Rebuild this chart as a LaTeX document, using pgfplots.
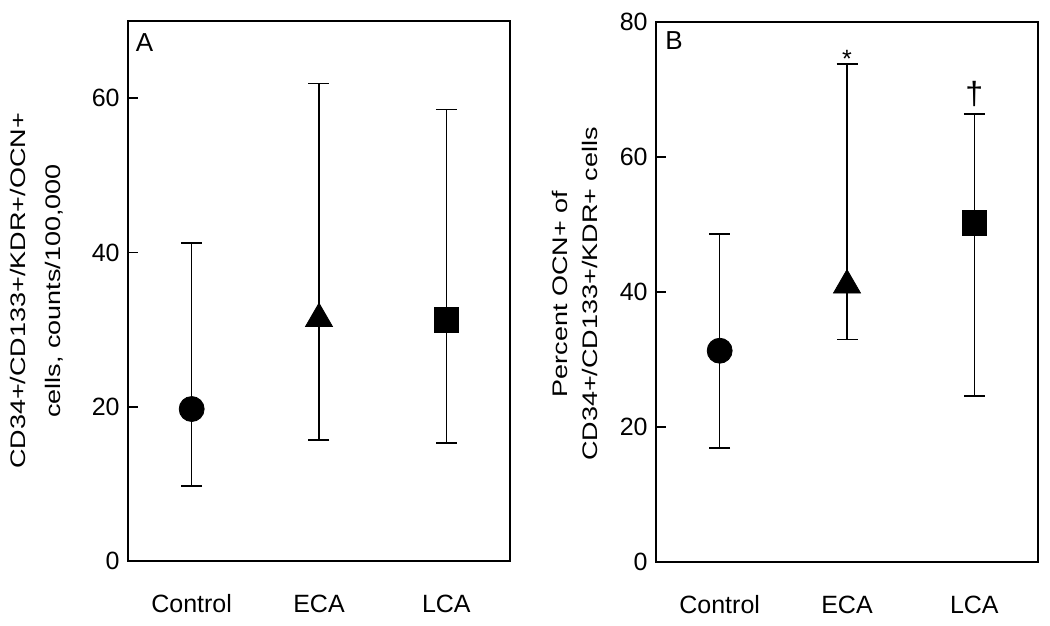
\documentclass[border=0pt]{standalone}
\usepackage{fontspec}
\setmainfont{Liberation Sans}
\usepackage{pgfplots}
\pgfplotsset{compat=1.18}
\begin{document}
\begin{tikzpicture}
\useasboundingbox (0,0) rectangle (525pt,313pt);
\pgfplotsset{
 panel/.style={
  scale only axis, width=191pt, height=270pt, anchor=south west,
  xmin=0.5, xmax=3.5, ymin=0,
  xtick={1,2,3}, xticklabels={Control,ECA,LCA},
  xtick style={draw=none},
  ytick pos=left,
  major tick length=5pt,
  axis line style={line width=0.9pt},
  ytick style={line width=0.9pt, black},
  tick label style={font=\fontsize{12.5}{15}\selectfont},
  /pgf/number format/assume math mode=true,
  yticklabel style={inner sep=0pt, xshift=-4pt},
  xticklabel style={anchor=center, inner sep=0pt, yshift=-21.5pt},
  clip=false,
  error bars/error bar style={line width=0.7pt, black},
  error bars/error mark options={rotate=90, line width=0.7pt, black, mark size=5.25pt},
 },
 pt/.style={only marks, black, error bars/y dir=both, error bars/y explicit},
}
% Panel A
\begin{axis}[panel, at={(64pt,32.5pt)}, ymax=70, ytick={0,20,40,60}]
\addplot[pt, mark=*, mark size=6.25pt] coordinates {(1,19.7) += (0,21.5) -= (0,10.0)};
\addplot[pt, mark=triangle*, mark size=7.8pt] coordinates {(2,31.4) += (0,30.5) -= (0,15.7)};
\addplot[pt, mark=square*, mark size=6.2pt] coordinates {(3,31.3) += (0,27.2) -= (0,16.0)};
\node[font=\fontsize{13}{15}\selectfont] at (axis description cs:0.0435,0.960) {A};
\end{axis}
% Panel B
\begin{axis}[panel, at={(328pt,32pt)}, ymax=80, ytick={0,20,40,60,80}]
\addplot[pt, mark=*, mark size=6.25pt] coordinates {(1,31.3) += (0,17.3) -= (0,14.4)};
\addplot[pt, mark=triangle*, mark size=7.8pt] coordinates {(2,41.0) += (0,32.8) -= (0,8.0)};
\addplot[pt, mark=square*, mark size=6.2pt] coordinates {(3,50.2) += (0,16.2) -= (0,25.6)};
\node[font=\fontsize{13}{15}\selectfont] at (axis description cs:0.047,0.966) {B};
\node[anchor=north, inner sep=0pt, font=\fontsize{12.5}{15}\selectfont] at (axis cs:2,75.9) {*};
\node[anchor=north, inner sep=0pt, font=\fontsize{16}{18}\selectfont] at (axis cs:3,71.2) {†};
\end{axis}
% y labels
\node[rotate=90, font=\fontsize{13.5}{16}\selectfont] at (9pt,167.5pt) {\scalebox{1}[0.78]{CD34+/CD133+/KDR+/OCN+}};
\node[rotate=90, font=\fontsize{13.5}{16}\selectfont] at (27pt,167.5pt) {\scalebox{1}[0.78]{cells, counts/100,000}};
\node[rotate=90, font=\fontsize{13.5}{16}\selectfont] at (280pt,166pt) {\scalebox{1}[0.78]{Percent OCN+ of}};
\node[rotate=90, font=\fontsize{13.5}{16}\selectfont] at (295pt,166pt) {\scalebox{1}[0.78]{CD34+/CD133+/KDR+ cells}};
\end{tikzpicture}
\end{document}
